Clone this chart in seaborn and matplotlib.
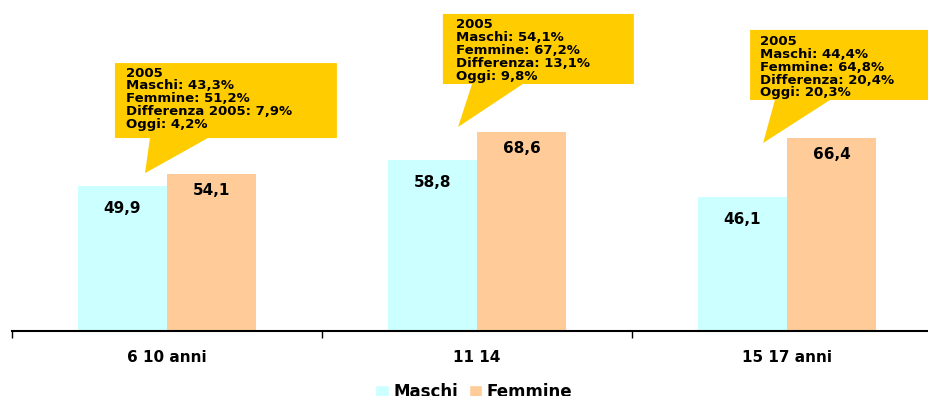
import pandas as pd
import matplotlib.pyplot as plt
import seaborn as sns
from matplotlib.patches import Polygon, Patch

# dati
categorie = ["6 10 anni", "11 14", "15 17 anni"]
maschi = [49.9, 58.8, 46.1]
femmine = [54.1, 68.6, 66.4]
etichette_m = ["49,9", "58,8", "46,1"]
etichette_f = ["54,1", "68,6", "66,4"]
note_2005 = [
    "2005\nMaschi: 43,3%\nFemmine: 51,2%\nDifferenza 2005: 7,9%\nOggi: 4,2%",
    "2005\nMaschi: 54,1%\nFemmine: 67,2%\nDifferenza: 13,1%\nOggi: 9,8%",
    "2005\nMaschi: 44,4%\nFemmine: 64,8%\nDifferenza: 20,4%\nOggi: 20,3%",
]

df = pd.DataFrame({
    "categoria": categorie * 2,
    "valore": maschi + femmine,
    "sesso": ["Maschi"] * 3 + ["Femmine"] * 3,
})
colori = {"Maschi": "#CCFFFF", "Femmine": "#FFCC99"}

sns.set_style("white")
plt.rcParams["font.family"] = ["DejaVu Sans"]
plt.rcParams["text.color"] = "black"
plt.rcParams["xtick.color"] = "black"
plt.rcParams["xtick.labelcolor"] = "black"

fig = plt.figure(figsize=(9.29, 3.96), dpi=100)
ax = fig.add_axes([12 / 929, 65 / 396, 930 / 929, 331 / 396])

sns.barplot(data=df, x="categoria", y="valore", hue="sesso", palette=colori,
            width=0.575, saturation=1, legend=False, linewidth=0, ax=ax)

ax.set_xlim(-0.5, 2.5)
ax.set_ylim(0, 113.9)

# etichette dei valori dentro le barre
for i, (m, f) in enumerate(zip(maschi, femmine)):
    ax.annotate(etichette_m[i], (i - 0.144, m), xytext=(0, -16), textcoords="offset points",
                ha="center", va="center", fontsize=11, fontweight="bold", color="black")
    ax.annotate(etichette_f[i], (i + 0.144, f), xytext=(0, -12), textcoords="offset points",
                ha="center", va="center", fontsize=11, fontweight="bold", color="black")

# fumetti gialli (box + punta) in coordinate dei dati
fumetti = [
    # (sinistra, destra, alto, basso, base_sx, base_dx, punta_x, punta_y, testo_x, testo_y)
    (-0.168, 0.548, 92.2, 66.4, -0.055, 0.132, -0.071, 54.3, -0.132, 91.0),
    (0.890, 1.506, 109.1, 85.0, 0.984, 1.148, 0.939, 70.2, 0.932, 107.6),
    (1.881, 2.55, 103.6, 79.5, 1.961, 2.139, 1.923, 64.7, 1.913, 101.8),
]
for (l, r, t, b, bl, br, px, py, tx, ty), testo in zip(fumetti, note_2005):
    poli = [(l, t), (r, t), (r, b), (br, b), (px, py), (bl, b), (l, b)]
    ax.add_patch(Polygon(poli, closed=True, facecolor="#FFCC00", edgecolor="none",
                         zorder=3, clip_on=False))
    ax.text(tx, ty, testo, ha="left", va="top", fontsize=9.5, fontweight="bold",
            linespacing=0.98, color="black", zorder=4)

# assi
sns.despine(ax=ax, left=True, top=True, right=True)
ax.spines["bottom"].set_linewidth(1.5)
ax.spines["bottom"].set_color("black")
ax.set_yticks([])
ax.set_xlabel("")
ax.set_ylabel("")
ax.set_xticks([0, 1, 2])
ax.set_xticklabels(categorie, fontsize=11, fontweight="bold")
ax.set_xticks([-0.5, 0.5, 1.5, 2.5], minor=True)
ax.tick_params(axis="x", which="major", length=0, pad=14)
ax.tick_params(axis="x", which="minor", bottom=True, length=5, width=1,
               color="black", direction="out")

# legenda
handles = [Patch(facecolor=colori["Maschi"], label="Maschi"),
           Patch(facecolor=colori["Femmine"], label="Femmine")]
leg = fig.legend(handles=handles, loc="center", bbox_to_anchor=(474 / 929, 1 - 392 / 396),
                 ncol=2, frameon=False, prop={"weight": "bold", "size": 12},
                 handlelength=0.8, handleheight=0.8, handletextpad=0.3, columnspacing=0.6)

plt.savefig("out.png", dpi=100)
